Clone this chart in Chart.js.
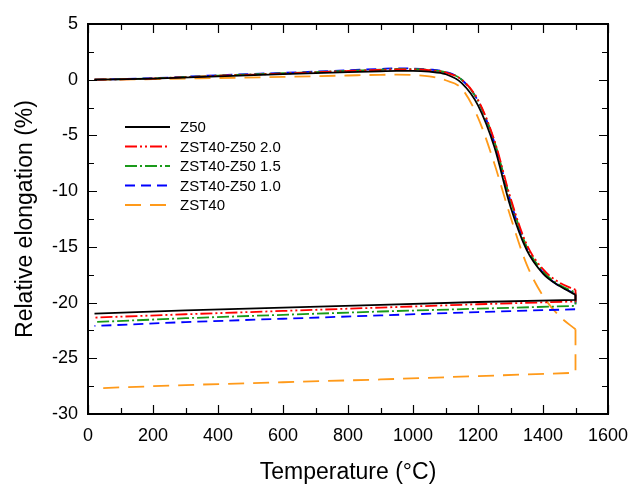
<!DOCTYPE html>
<html>
<head>
<meta charset="utf-8">
<script src="https://cdn.jsdelivr.net/npm/chart.js@4.4.0/dist/chart.umd.min.js"></script>
<style>
  html, body { margin: 0; padding: 0; background: #fff; }
  #wrap { width: 634px; height: 486px; }
</style>
</head>
<body>
<div id="wrap"><canvas id="ch"></canvas></div>
<script>
// heating branch temperatures (°C)
const heatT = [20, 200, 400, 600, 800, 900, 950, 1000, 1050, 1100, 1150, 1200, 1250, 1300, 1350, 1400, 1450, 1500];
// cooling branch temperatures (°C), read from 1500 down
const coolT = [1500, 1200, 900, 600, 300, 20];

const seriesNames = ["Z50", "ZST40-Z50 2.0", "ZST40-Z50 1.5", "ZST40-Z50 1.0", "ZST40"];

const z50Heat   = [0, 0.1, 0.3, 0.5, 0.68, 0.76, 0.8, 0.8, 0.72, 0.5, -0.3, -2.3, -6.0, -11.4, -15.3, -17.4, -18.5, -19.3];
const z20Heat   = [0, 0.1, 0.35, 0.55, 0.78, 0.88, 0.93, 0.93, 0.85, 0.65, 0.0, -1.8, -5.4, -10.6, -14.8, -17.0, -18.2, -18.85];
const z15Heat   = [0, 0.12, 0.37, 0.58, 0.8, 0.9, 0.96, 0.95, 0.88, 0.68, 0.0, -1.9, -5.5, -10.8, -15.0, -17.2, -18.4, -19.1];
const z10Heat   = [0, 0.14, 0.4, 0.62, 0.85, 0.97, 1.02, 1.0, 0.92, 0.7, 0.0, -1.9, -5.6, -10.9, -15.1, -17.3, -18.5, -19.2];
const zst40Heat = [0, 0.05, 0.15, 0.25, 0.38, 0.44, 0.45, 0.42, 0.3, -0.05, -0.8, -3.4, -7.5, -12.3, -16.6, -19.4, -21.2, -22.4];

const z50Cool   = [-19.75, -19.95, -20.2, -20.45, -20.7, -21.0];
const z20Cool   = [-19.9, -20.15, -20.45, -20.75, -21.05, -21.35];
const z15Cool   = [-20.3, -20.55, -20.8, -21.1, -21.4, -21.75];
const z10Cool   = [-20.6, -20.85, -21.15, -21.45, -21.75, -22.1];
const zst40Cool = [-26.3, -26.6, -26.9, -27.15, -27.4, -27.7];

const colors = ["#000000", "#ff0000", "#1a9a1a", "#0000ff", "#ff9a1a"];
const dashes = [[], [12, 3, 2, 3, 2, 3], [12, 3, 2, 3], [10, 6], [16, 9]];

const heats = [z50Heat, z20Heat, z15Heat, z10Heat, zst40Heat];
const cools = [z50Cool, z20Cool, z15Cool, z10Cool, zst40Cool];

const FONT = "Arial, 'Liberation Sans', sans-serif";

let datasets = [];
for (let i = 0; i < seriesNames.length; i++) {
  let h = heats[i];
  let heatData = heatT.map((t, k) => ({x: t, y: h[k]}));
  let coolData = [{x: 1500, y: h[h.length - 1]}].concat(coolT.map((t, k) => ({x: t, y: cools[i][k]})));
  datasets.push({
    label: seriesNames[i],
    data: heatData,
    borderColor: colors[i],
    borderDash: dashes[i],
    borderWidth: 1.8,
    showLine: true,
    pointRadius: 0,
    cubicInterpolationMode: 'monotone',
    fill: false
  });
  datasets.push({
    label: seriesNames[i] + " cooling",
    data: coolData,
    borderColor: colors[i],
    borderDash: dashes[i],
    borderWidth: 1.8,
    showLine: true,
    pointRadius: 0,
    tension: 0,
    fill: false
  });
}

// box, inward ticks and legend
const framePlugin = {
  id: 'frame',
  afterDraw(chart) {
    const ctx = chart.ctx;
    const a = chart.chartArea;
    const xs = chart.scales.x, ys = chart.scales.y;
    ctx.save();
    ctx.strokeStyle = '#000';
    ctx.lineWidth = 1.2;
    ctx.setLineDash([]);
    for (let t = 0; t <= 1600; t += 100) {
      let px = Math.round(xs.getPixelForValue(t)) + 0.5;
      let len = (t % 200 === 0) ? 9 : 6;
      ctx.beginPath();
      ctx.moveTo(px, a.bottom); ctx.lineTo(px, a.bottom - len);
      ctx.moveTo(px, a.top); ctx.lineTo(px, a.top + len);
      ctx.stroke();
    }
    for (let v = -30; v <= 5; v += 2.5) {
      let py = Math.round(ys.getPixelForValue(v)) + 0.5;
      let len = (v % 5 === 0) ? 9 : 6;
      ctx.beginPath();
      ctx.moveTo(a.left, py); ctx.lineTo(a.left + len, py);
      ctx.moveTo(a.right, py); ctx.lineTo(a.right - len, py);
      ctx.stroke();
    }
    ctx.lineWidth = 2;
    ctx.strokeRect(a.left, a.top, a.right - a.left, a.bottom - a.top);

    // legend
    const rows = [127, 146.5, 166, 185.5, 205];
    ctx.font = "15px " + FONT;
    ctx.textBaseline = 'middle';
    ctx.textAlign = 'left';
    for (let i = 0; i < seriesNames.length; i++) {
      ctx.strokeStyle = colors[i];
      ctx.lineWidth = 1.8;
      ctx.setLineDash(dashes[i]);
      ctx.beginPath();
      ctx.moveTo(125, rows[i]); ctx.lineTo(170, rows[i]);
      ctx.stroke();
      ctx.setLineDash([]);
      ctx.fillStyle = '#000';
      ctx.fillText(seriesNames[i], 180, rows[i] + 1);
    }
    ctx.restore();
  }
};

new Chart(document.getElementById('ch'), {
  type: 'scatter',
  data: { datasets: datasets },
  options: {
    responsive: true,
    maintainAspectRatio: false,
    animation: false,
    layout: { padding: { top: 24, right: 26, left: 0, bottom: 0 } },
    plugins: { legend: { display: false }, tooltip: { enabled: false } },
    scales: {
      x: {
        type: 'linear',
        min: 0, max: 1600,
        grid: { display: false, drawTicks: false },
        border: { display: false },
        ticks: { stepSize: 200, padding: 11, color: '#000', font: { size: 18, family: FONT }, callback: v => String(v) },
        title: { display: true, text: 'Temperature (°C)', color: '#000', font: { size: 23, family: FONT }, padding: { top: 0, bottom: 0 } },
        afterFit(s) { s.height = 72; s.paddingRight = 0; s.paddingLeft = 0; }
      },
      y: {
        min: -30, max: 5,
        grid: { display: false, drawTicks: false },
        border: { display: false },
        ticks: { stepSize: 5, padding: 10, color: '#000', font: { size: 18, family: FONT } },
        title: { display: true, text: 'Relative elongation (%)', color: '#000', font: { size: 23, family: FONT }, padding: { top: 12, bottom: 0 } },
        afterFit(s) { s.width = 88; }
      }
    }
  },
  plugins: [framePlugin]
});
</script>
</body>
</html>
